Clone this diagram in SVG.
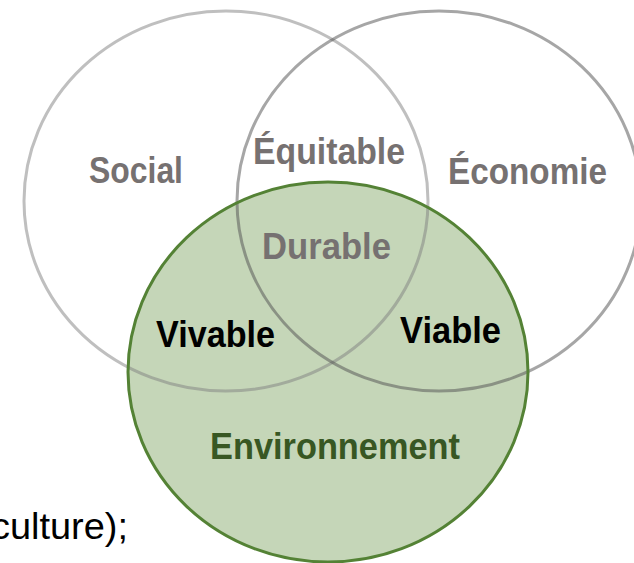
<svg xmlns="http://www.w3.org/2000/svg" width="634" height="563" viewBox="0 0 634 563">
  <style>
    .lbl { font-family: "Liberation Sans", Arial, sans-serif; font-weight: bold; font-size: 36px; }
    .gray { fill: #767171; }
    .blk { fill: #000000; }
    .grn { fill: #385723; }
    .ring { fill: none; stroke-width: 3; }
  </style>
  <rect x="0" y="0" width="634" height="563" fill="#ffffff"/>
  <g id="environnement-fill">
    <ellipse cx="328" cy="372" rx="200" ry="190" fill="#C5D6B8"/>
  </g>
  <g id="social">
    <ellipse class="ring" cx="226" cy="201" rx="202" ry="190" stroke="#7F7F7F" stroke-opacity="0.5"/>
    <text class="lbl gray" x="89" y="183" textLength="94" lengthAdjust="spacingAndGlyphs">Social</text>
  </g>
  <g id="economie">
    <ellipse class="ring" cx="439" cy="201" rx="202" ry="190" stroke="#555555" stroke-opacity="0.52"/>
    <text class="lbl gray" x="448" y="184" textLength="159" lengthAdjust="spacingAndGlyphs">Économie</text>
  </g>
  <g id="environnement">
    <ellipse class="ring" cx="328" cy="372" rx="200" ry="190" stroke="#548235"/>
    <text class="lbl grn" x="210" y="459" textLength="250" lengthAdjust="spacingAndGlyphs">Environnement</text>
  </g>
  <g id="equitable">
    <text class="lbl gray" x="253" y="164" textLength="152" lengthAdjust="spacingAndGlyphs">Équitable</text>
  </g>
  <g id="durable">
    <text class="lbl gray" x="262" y="259" textLength="129" lengthAdjust="spacingAndGlyphs">Durable</text>
  </g>
  <g id="vivable">
    <text class="lbl blk" x="156" y="347" textLength="119" lengthAdjust="spacingAndGlyphs">Vivable</text>
  </g>
  <g id="viable">
    <text class="lbl blk" x="400" y="343" textLength="101" lengthAdjust="spacingAndGlyphs">Viable</text>
  </g>
  <g id="connectors"></g>
  <text x="-9" y="539" font-family="Liberation Sans, Arial, sans-serif" font-size="37" fill="#000000" textLength="137" lengthAdjust="spacingAndGlyphs">culture);</text>
</svg>
